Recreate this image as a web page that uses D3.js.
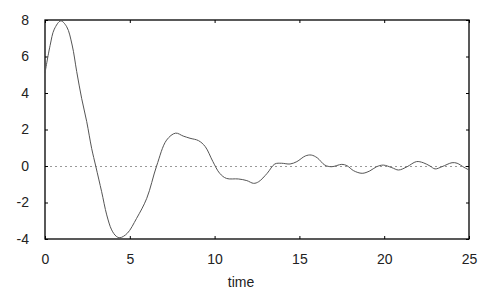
<html>
    <head>
        <script src="https://d3js.org/d3.v7.min.js" charset="utf-8"></script>
        <style>
            body {
                margin: 0;
                background: white;
                font-family: "Liberation Sans", Arial, sans-serif;
            }
        </style>
    </head>
    <body>
        <script>
            // values
            var time = [0, 0.3, 0.55, 0.93, 1.28, 1.6, 1.87, 2.16, 2.46, 2.75, 3.0, 3.34, 3.64, 3.93, 4.2, 4.42, 4.85, 5.4, 6.0, 6.58,
                7.17, 7.7, 8.15, 8.55, 9.05, 9.45, 9.9, 10.3, 10.7, 11.4, 11.9, 12.3, 12.6, 13.1, 13.55, 13.95, 14.45, 14.85,
                15.35, 15.7, 16.05, 16.5, 16.9, 17.5, 17.8, 18.2, 18.7, 19.15, 19.55, 19.95, 20.45, 20.85, 21.35, 21.9,
                22.3, 22.7, 23.0, 23.4, 24.0, 24.3, 24.7, 25];
            var values = [5.1, 6.6, 7.5, 7.95, 7.63, 6.63, 5.17, 3.71, 2.43, 0.97, -0.04, -1.41, -2.68, -3.5, -3.85, -3.93, -3.69, -2.87, -1.77, 0.0,
                1.42, 1.8, 1.64, 1.52, 1.39, 1.06, 0.24, -0.4, -0.68, -0.71, -0.8, -0.95, -0.86, -0.4, 0.11, 0.15, 0.11, 0.24,
                0.55, 0.6, 0.45, 0.05, -0.04, 0.09, 0.02, -0.26, -0.4, -0.27, -0.04, 0.05, -0.09, -0.22, -0.04, 0.24,
                0.18, 0, -0.16, -0.04, 0.18, 0.15, -0.07, -0.22];
            var xTicks = [0, 5, 10, 15, 20, 25];
            var yTicks = [-4, -2, 0, 2, 4, 6, 8];

            var width = 500;
            var height = 300;
            // plot box ("top" is a reserved window name, so prefix these)
            var boxLeft = 45, boxRight = 469, boxTop = 20, boxBottom = 239;

            var svg = d3.select("body")
            .append("svg")
            .attr("width", width)
            .attr("height", height);

            var x = d3.scaleLinear().domain([0, 25]).range([boxLeft, boxRight]);
            var y = d3.scaleLinear().domain([-4, 8]).range([boxBottom, boxTop]);

            // zero line
            svg.append("line")
            .attr("x1", x(0)).attr("x2", x(25))
            .attr("y1", y(0) + 0.5).attr("y2", y(0) + 0.5)
            .attr("stroke", "#999")
            .attr("stroke-dasharray", "2,3");

            // axes, ticks pointing inward on all four sides
            function styleAxis(g) {
                g.select(".domain").remove();
                g.selectAll(".tick line").attr("stroke", "#000");
                g.selectAll(".tick text")
                .attr("font-family", "'Liberation Sans', Arial, sans-serif")
                .attr("font-size", 14)
                .attr("fill", "#222");
            }

            // plain hyphen for negatives, like the reference
            var plain = function(d) { return String(d); };

            svg.append("g")
            .attr("transform", "translate(0," + boxBottom + ")")
            .call(d3.axisBottom(x).tickValues(xTicks).tickFormat(plain).tickSizeInner(-3).tickPadding(15))
            .call(styleAxis);

            svg.append("g")
            .attr("transform", "translate(0," + boxTop + ")")
            .call(d3.axisTop(x).tickValues(xTicks).tickSizeInner(-3).tickFormat(""))
            .call(styleAxis);

            svg.append("g")
            .attr("transform", "translate(" + boxLeft + ",0)")
            .call(d3.axisLeft(y).tickValues(yTicks).tickFormat(plain).tickSizeInner(-3).tickPadding(16))
            .call(styleAxis);

            svg.append("g")
            .attr("transform", "translate(" + boxRight + ",0)")
            .call(d3.axisRight(y).tickValues(yTicks).tickSizeInner(-3).tickFormat(""))
            .call(styleAxis);

            // frame
            svg.append("rect")
            .attr("x", boxLeft).attr("y", boxTop)
            .attr("width", boxRight - boxLeft).attr("height", boxBottom - boxTop)
            .attr("fill", "none")
            .attr("stroke", "#000")
            .attr("stroke-width", 1.3);

            var line = d3.line()
            .x(function(d, i) { return x(time[i]); })
            .y(function(d) { return y(d); })
            .curve(d3.curveCatmullRom);

            svg.append("path")
            .datum(values)
            .attr("fill", "none")
            .attr("stroke", "#555")
            .attr("stroke-width", 1)
            .attr("d", line);

            svg.append("text")
            .attr("x", 241)
            .attr("y", 287)
            .attr("text-anchor", "middle")
            .attr("font-size", 14)
            .attr("fill", "#222")
            .text("time");
        </script>
    </body>
</html>
